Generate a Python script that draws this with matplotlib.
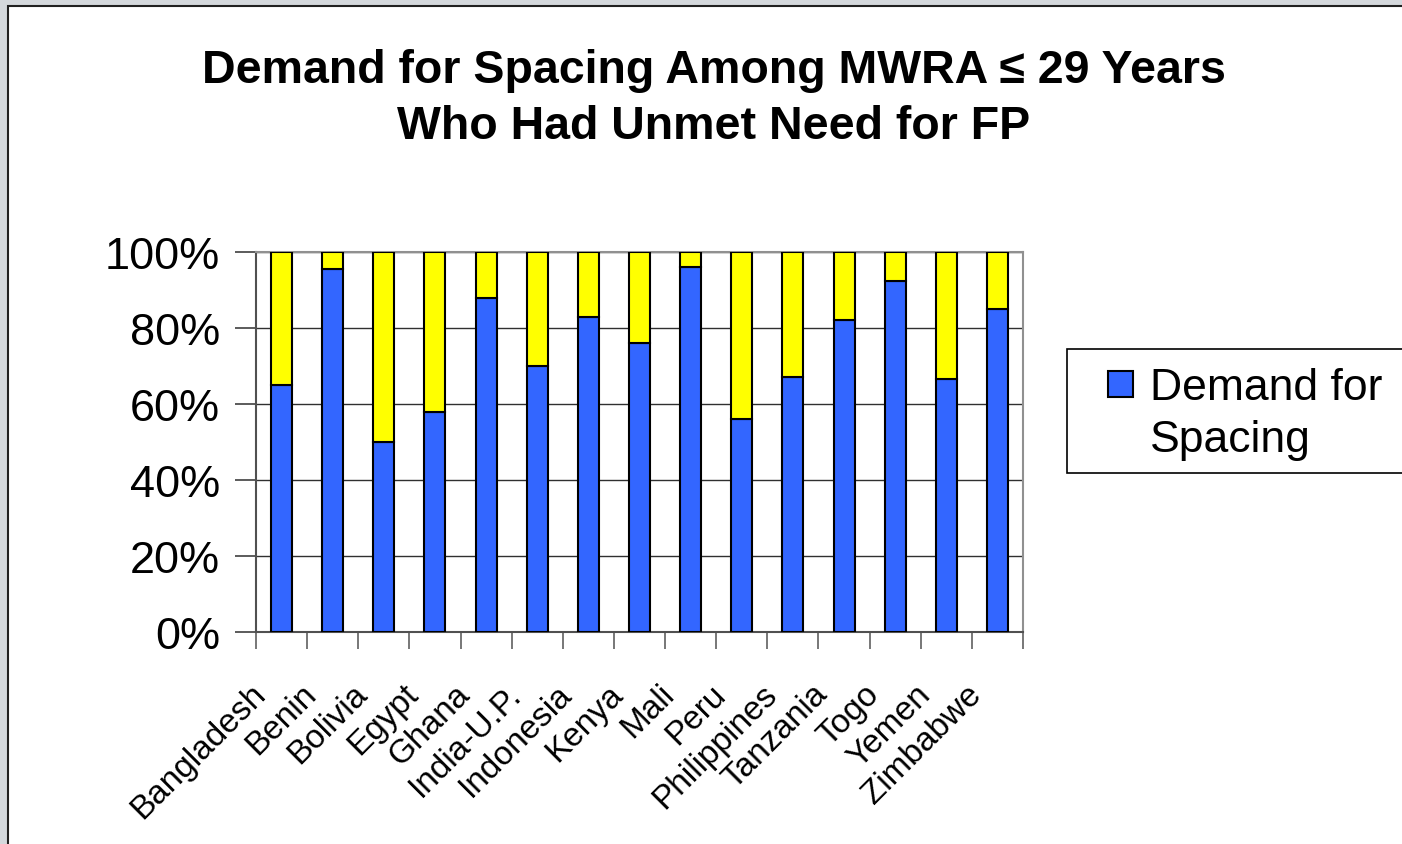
import numpy as np
import matplotlib
matplotlib.use("Agg")
import matplotlib.pyplot as plt
import matplotlib.transforms as mtransforms
from matplotlib.patches import Rectangle

plt.rcParams['font.family'] = ['Liberation Sans', 'DejaVu Sans']

countries = ['Bangladesh', 'Benin', 'Bolivia', 'Egypt', 'Ghana', 'India-U.P.',
             'Indonesia', 'Kenya', 'Mali', 'Peru', 'Philippines', 'Tanzania',
             'Togo', 'Yemen', 'Zimbabwe']
spacing = [65, 95.5, 50, 58, 88, 70, 83, 76, 96, 56, 67, 82, 92.5, 66.5, 85]
limiting = [100 - v for v in spacing]
yticks = [0, 20, 40, 60, 80, 100]
legend_lines = ['Demand for', 'Spacing']

BLUE = '#3366ff'
YELLOW = '#ffff00'

W, H = 1402, 845
fig = plt.figure(figsize=(W / 100, H / 100), dpi=100)
fig.patch.set_facecolor('#d4d8dc')
# white slide panel with dark border
fig.patches.append(Rectangle((8 / W, -0.01), 1.02, 1 - 7 / H + 0.01,
                             transform=fig.transFigure, facecolor='white',
                             edgecolor='#202020', linewidth=1.5, zorder=-1))

ax = fig.add_axes([256 / W, 1 - 633 / H, (1023 - 256) / W, (633 - 253) / H])
ax.set_facecolor('white')

x = np.arange(len(countries))
ax.bar(x, spacing, width=0.41, color=BLUE, edgecolor='black',
       linewidth=1.5, zorder=3)
ax.bar(x, limiting, width=0.41, bottom=spacing, color=YELLOW,
       edgecolor='black', linewidth=1.5, zorder=3)

ax.set_xlim(-0.5, len(countries) - 0.5)
ax.set_ylim(0, 100)
ax.set_yticks(yticks)
ax.set_yticklabels(['%d%%' % v for v in yticks], fontsize=32.5)
ax.tick_params(axis='y', direction='out', length=15, width=1.2,
               color='#404040', pad=11)
ax.yaxis.grid(True, color='#303030', linewidth=1.0, zorder=0)

ax.set_xticks(x)
ax.set_xticklabels(countries, fontsize=24, rotation=45, ha='right',
                   va='center', rotation_mode='anchor')
ax.set_xticks(np.arange(len(countries) + 1) - 0.5, minor=True)
ax.tick_params(axis='x', which='major', length=0, pad=41)
ax.tick_params(axis='x', which='minor', direction='out', length=12,
               width=1.2, color='#606060')
offset = mtransforms.ScaledTranslation(-21 / 100, 0, fig.dpi_scale_trans)
for lab in ax.get_xticklabels():
    lab.set_transform(lab.get_transform() + offset)

for side in ['top', 'right']:
    ax.spines[side].set_color('#909090')
    ax.spines[side].set_linewidth(1.5)
for side in ['left', 'bottom']:
    ax.spines[side].set_color('#505050')
    ax.spines[side].set_linewidth(1.5)

fig.text(714 / W, 1 - 99 / H,
         'Demand for Spacing Among MWRA \u2264 29 Years\nWho Had Unmet Need for FP',
         ha='center', va='center', fontsize=33.5, fontweight='bold',
         linespacing=1.36)

# legend box (runs off the right edge as in the slide)
fig.patches.append(Rectangle((1067 / W, 1 - 474 / H), 0.3, 124 / H,
                             transform=fig.transFigure, facecolor='white',
                             edgecolor='black', linewidth=1.2, zorder=1))
fig.patches.append(Rectangle((1108 / W, 1 - 398 / H), 25 / W, 26 / H,
                             transform=fig.transFigure, facecolor=BLUE,
                             edgecolor='black', linewidth=1.5, zorder=2))
for i, line in enumerate(legend_lines):
    fig.text(1150 / W, 1 - (400 + 52 * i) / H, line, ha='left',
             va='baseline', fontsize=32, zorder=3)

fig.savefig('out.png', dpi=100, facecolor=fig.get_facecolor())
